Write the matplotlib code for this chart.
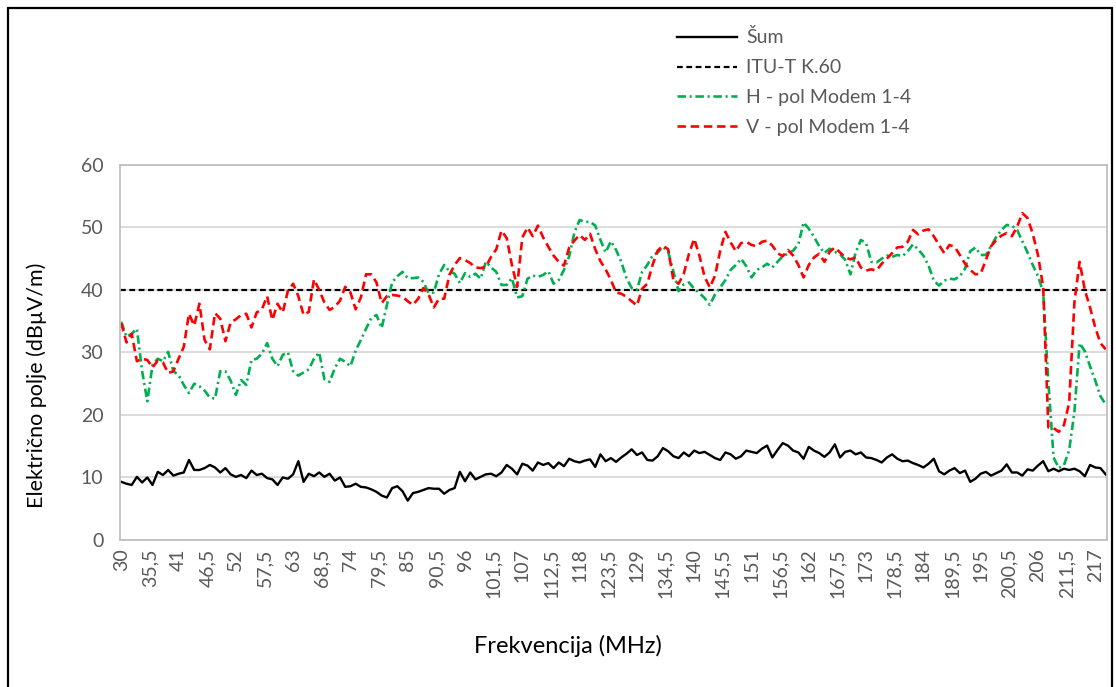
import numpy as np
import matplotlib
matplotlib.use("Agg")
import matplotlib.pyplot as plt
from matplotlib.patches import Rectangle

plt.rcParams['font.family'] = ['Lato', 'DejaVu Sans']

# frequency in MHz (1 MHz steps, 30 - 219)
freq = np.arange(30, 220)

# noise floor (Šum), dBµV/m
sum_noise = [
    9.3, 9.0, 8.8, 10.1, 9.2, 10.0, 8.8, 10.9, 10.4, 11.2,
    10.3, 10.6, 10.8, 12.8, 11.2, 11.2, 11.5, 12.0, 11.6, 10.8,
    11.5, 10.5, 10.1, 10.4, 9.9, 11.1, 10.4, 10.6, 9.9, 9.7,
    8.8, 10.0, 9.8, 10.5, 12.6, 9.3, 10.6, 10.2, 10.8, 10.1,
    10.6, 9.5, 10.0, 8.5, 8.6, 9.0, 8.5, 8.4, 8.1, 7.7,
    7.1, 6.8, 8.3, 8.6, 7.8, 6.3, 7.5, 7.7, 8.0, 8.3,
    8.2, 8.2, 7.4, 8.0, 8.3, 10.9, 9.4, 10.8, 9.7, 10.1,
    10.5, 10.6, 10.2, 10.8, 12.0, 11.4, 10.5, 12.2, 11.9, 11.1,
    12.4, 12.0, 12.3, 11.5, 12.4, 11.8, 13.0, 12.6, 12.4, 12.7,
    12.9, 11.7, 13.7, 12.6, 13.1, 12.5, 13.2, 13.8, 14.5, 13.6,
    14.0, 12.8, 12.7, 13.4, 14.7, 14.2, 13.4, 13.1, 14.0, 13.4,
    14.3, 13.9, 14.1, 13.6, 13.1, 12.8, 14.0, 13.7, 13.0, 13.4,
    14.3, 14.1, 13.9, 14.6, 15.1, 13.2, 14.4, 15.5, 15.1, 14.3,
    14.0, 13.0, 14.9, 14.3, 13.9, 13.3, 14.0, 15.3, 13.2, 14.1,
    14.3, 13.7, 14.0, 13.2, 13.1, 12.8, 12.4, 13.2, 13.7, 13.0,
    12.6, 12.7, 12.3, 12.0, 11.6, 12.2, 13.0, 11.0, 10.5, 11.1,
    11.5, 10.7, 11.1, 9.3, 9.8, 10.6, 10.9, 10.3, 10.7, 11.1,
    12.1, 10.8, 10.8, 10.3, 11.3, 11.1, 11.9, 12.6, 11.0, 11.4,
    11.0, 11.4, 11.2, 11.4, 11.0, 10.2, 12.0, 11.6, 11.5, 10.5,
]

# ITU-T K.60 limit
itu_k60 = 40

# H - pol Modem 1-4
h_pol = [
    34.9, 32.5, 33.0, 33.8, 27.0, 22.2, 28.0, 29.0, 28.6, 30.1,
    27.0, 26.4, 24.8, 23.5, 25.0, 24.6, 23.9, 22.8, 22.6, 27.0,
    27.0, 25.5, 23.2, 25.6, 24.8, 28.8, 29.0, 29.8, 31.5, 29.0,
    27.8, 29.6, 30.0, 27.0, 26.3, 26.8, 27.3, 29.0, 30.0, 25.7,
    25.3, 27.5, 29.0, 28.5, 27.8, 30.3, 32.0, 33.8, 35.5, 36.0,
    33.9, 37.6, 41.2, 42.2, 42.9, 41.9, 41.9, 42.0, 41.3, 39.5,
    39.6, 42.5, 44.0, 43.0, 42.6, 41.1, 42.7, 42.1, 42.6, 41.8,
    44.5, 43.6, 42.9, 40.8, 40.8, 41.9, 38.8, 39.0, 41.8, 42.3,
    42.1, 42.4, 43.0, 41.0, 41.6, 43.2, 45.4, 49.2, 51.2, 50.9,
    50.9, 50.3, 48.0, 46.0, 47.8, 46.4, 44.5, 41.9, 40.3, 40.0,
    42.9, 44.0, 45.5, 46.0, 46.9, 46.1, 43.0, 39.8, 40.9, 41.2,
    40.2, 39.5, 38.7, 37.6, 39.3, 40.4, 41.6, 43.2, 44.0, 45.0,
    43.8, 42.0, 43.2, 43.6, 44.2, 43.6, 44.5, 45.4, 45.8, 46.3,
    47.3, 50.8, 49.8, 48.5, 47.0, 45.9, 46.6, 46.1, 45.7, 44.8,
    42.5, 46.0, 48.0, 47.5, 44.5, 44.4, 45.0, 45.5, 45.3, 45.6,
    45.4, 46.2, 47.3, 46.5, 45.5, 43.9, 41.5, 40.7, 41.5, 41.8,
    41.7, 42.2, 43.4, 46.2, 46.8, 45.6, 45.6, 47.0, 48.5, 49.6,
    50.4, 50.3, 49.6, 47.8, 46.0, 44.0, 42.2, 39.7, 25.3, 13.2,
    11.5, 12.0, 14.4, 20.5, 31.5, 30.2, 27.8, 25.5, 23.0, 21.7,
]

# V - pol Modem 1-4
v_pol = [
    34.7, 31.6, 33.0, 28.6, 29.0, 28.8, 27.6, 28.7, 28.4, 26.7,
    27.0, 29.0, 30.9, 36.2, 34.3, 37.8, 32.0, 30.5, 36.3, 35.4,
    31.8, 34.8, 35.3, 36.0, 36.2, 34.0, 36.4, 36.9, 39.0, 35.2,
    37.8, 36.4, 39.9, 41.0, 39.0, 36.0, 36.5, 41.7, 40.0, 38.0,
    36.8, 37.3, 38.3, 40.5, 39.6, 36.9, 38.8, 42.5, 42.5, 41.2,
    37.9, 39.0, 39.2, 39.1, 38.9, 38.2, 37.6, 38.6, 40.3, 39.3,
    37.2, 38.6, 38.6, 42.4, 44.0, 45.1, 44.8, 44.3, 43.6, 43.5,
    43.7, 45.3, 46.5, 49.5, 48.3, 44.0, 40.5, 48.4, 50.0, 48.6,
    50.3, 48.4, 46.9, 45.5, 44.5, 43.9, 46.8, 47.9, 48.8, 48.0,
    49.0, 46.5, 44.6, 43.3, 41.6, 39.6, 39.4, 38.9, 38.2, 37.5,
    40.2, 41.0, 44.0, 46.3, 47.1, 46.5, 41.6, 41.0, 42.6, 45.8,
    48.2, 45.5, 42.1, 40.4, 42.3, 46.3, 49.3, 47.6, 46.2, 47.5,
    47.7, 47.2, 47.0, 47.7, 47.9, 47.1, 45.9, 45.4, 46.4, 45.5,
    44.0, 42.0, 44.0, 45.2, 45.8, 44.5, 46.1, 46.8, 46.0, 45.2,
    44.9, 45.2, 43.6, 43.1, 43.3, 43.1, 44.2, 45.0, 45.9, 46.8,
    46.9, 47.7, 49.6, 48.9, 49.5, 49.7, 48.6, 47.2, 45.9, 47.2,
    46.9, 45.6, 44.2, 43.2, 42.5, 42.6, 44.8, 47.0, 48.0, 48.7,
    49.1, 48.6, 50.1, 52.3, 51.5, 49.0, 45.6, 40.5, 18.0, 17.9,
    17.3, 18.4, 22.0, 38.0, 44.5, 40.0, 37.2, 34.0, 31.5, 30.5,
]

freq_ticks = [30, 35.5, 41, 46.5, 52, 57.5, 63, 68.5, 74, 79.5, 85, 90.5,
              96, 101.5, 107, 112.5, 118, 123.5, 129, 134.5, 140, 145.5,
              151, 156.5, 162, 167.5, 173, 178.5, 184, 189.5, 195, 200.5,
              206, 211.5, 217]
tick_labels = [('%g' % t).replace('.', ',') for t in freq_ticks]

fig = plt.figure(figsize=(11.16, 6.87), dpi=100)
ax = fig.add_axes([0.1075, 0.214, 0.8844, 0.5459])

ax.plot(freq, sum_noise, color='black', lw=1.7, label='Šum')
ax.axhline(itu_k60, color='black', lw=1.6, dashes=(2.6, 1.6), label='ITU-T K.60')
ax.plot(freq, h_pol, color='#00B050', lw=1.9, dashes=(3.2, 1.4, 0.8, 1.4),
        label='H - pol Modem 1-4')
ax.plot(freq, v_pol, color='#FF0000', lw=1.9, dashes=(3.2, 1.8),
        label='V - pol Modem 1-4')

ax.set_xlim(29.75, 219.25)
ax.set_ylim(0, 60)
ax.set_yticks(range(0, 61, 10))
ax.set_xticks(freq_ticks)
ax.set_xticklabels(tick_labels, rotation=90)
ax.tick_params(axis='both', length=0, colors='#595959', labelsize=14)
ax.tick_params(axis='y', pad=12)
ax.tick_params(axis='x', pad=6)
ax.grid(axis='y', color='#D9D9D9', lw=1.3)
ax.set_axisbelow(True)
for s in ax.spines.values():
    s.set_color('#BFBFBF')
    s.set_linewidth(1.3)

ax.set_xlabel('Frekvencija (MHz)', fontsize=17)
ax.xaxis.set_label_coords(0.454, -0.253)
ax.set_ylabel('Električno polje (dBµV/m)', fontsize=15.5)
ax.yaxis.set_label_coords(-0.074, 0.413)

fig.legend(loc='upper left', bbox_to_anchor=(0.591, 0.984), frameon=False,
           fontsize=14, handlelength=3.1, handletextpad=0.45,
           labelspacing=0.66, labelcolor='#595959')

# outer frame
fig.patches.append(Rectangle((8 / 1116, -6 / 687), 1104 / 1116, 685 / 687,
                             transform=fig.transFigure, fill=False,
                             edgecolor='black', lw=1.6))

fig.savefig('out.png', dpi=100)
